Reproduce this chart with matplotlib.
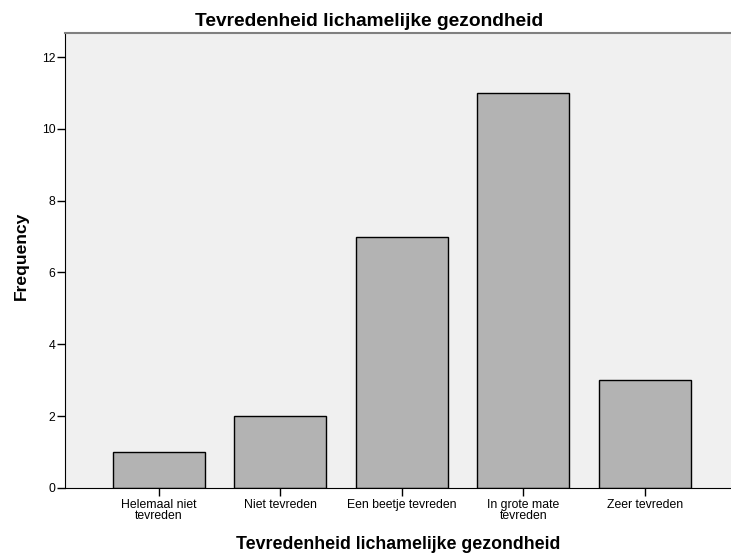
import matplotlib.pyplot as plt
import numpy as np

plt.rcParams['font.family'] = ['Liberation Sans', 'DejaVu Sans']

categories = ["Helemaal niet\ntevreden", "Niet tevreden", "Een beetje tevreden",
              "In grote mate\ntevreden", "Zeer tevreden"]
frequency = [1, 2, 7, 11, 3]
yticks = [0, 2, 4, 6, 8, 10, 12]

fig = plt.figure(figsize=(7.31, 5.55), dpi=100)
ax = fig.add_axes([0.089, 0.121, 0.911, 0.8195])
ax.set_facecolor("#f0f0f0")

x = np.arange(len(categories))
ax.bar(x, frequency, width=0.757, color="#b3b3b3", edgecolor="black", linewidth=1.0, zorder=2)

ax.set_xlim(-0.77, 4.71)
ax.set_ylim(0, 12.67)
ax.set_yticks(yticks)
ax.set_xticks(x)
ax.set_xticklabels(categories, fontsize=8.8, linespacing=0.88)
ax.tick_params(axis='y', labelsize=8.8, length=6, width=1, pad=1)
ax.tick_params(axis='x', length=6, width=1, pad=2)

ax.spines['right'].set_visible(False)
ax.spines['top'].set_color("#808080")
ax.spines['top'].set_linewidth(1.5)
ax.spines['left'].set_color("black")
ax.spines['bottom'].set_color("black")

fig.text(0.505, 0.962, "Tevredenheid lichamelijke gezondheid", fontsize=13.8,
         fontweight='bold', ha='center', va='center')
ax.set_xlabel("Tevredenheid lichamelijke gezondheid", fontsize=12.8, fontweight='bold', labelpad=10)
ax.set_ylabel("Frequency", fontsize=12.6, fontweight='bold', labelpad=4)
ax.yaxis.set_label_coords(-0.054, 0.51)

fig.savefig("out.png", dpi=100)
